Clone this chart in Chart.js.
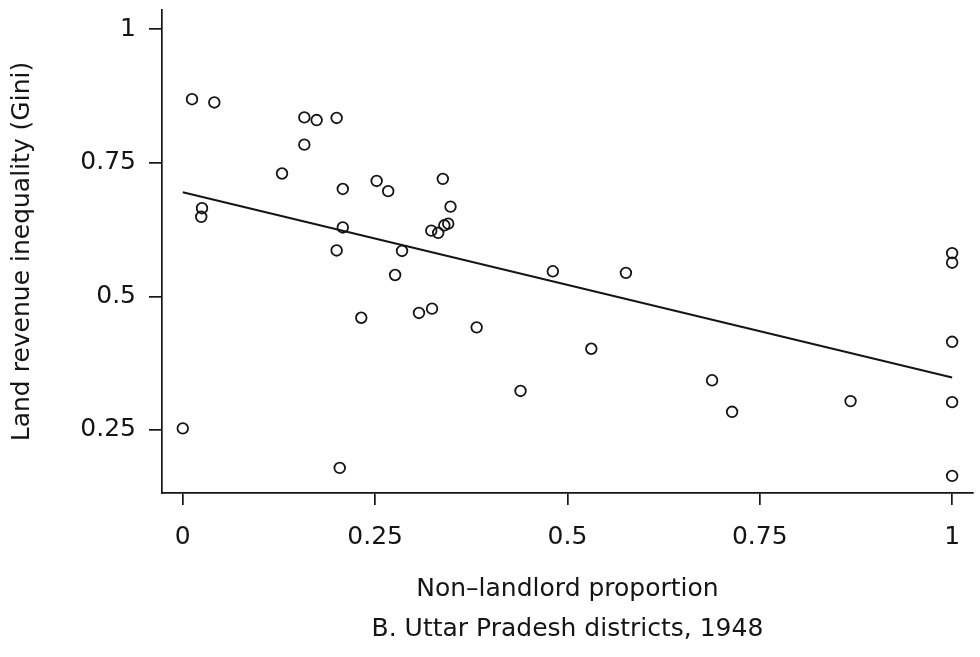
<!DOCTYPE html>
<html>
<head>
<meta charset="utf-8">
<title>Land revenue inequality vs non-landlord proportion</title>
<script src="https://cdn.jsdelivr.net/npm/chart.js@4/dist/chart.umd.min.js"></script>
<style>
  html, body { margin: 0; padding: 0; background: #fff; }
  #wrap { width: 980px; height: 657px; }
</style>
</head>
<body>
<div id="wrap"><canvas id="giniChart" width="980" height="657"></canvas></div>
<script>
// Uttar Pradesh districts, 1948
const nonLandlord = [
  0.000, 0.012, 0.041, 0.025, 0.024, 0.129, 0.158, 0.174, 0.200, 0.158,
  0.208, 0.208, 0.200, 0.204, 0.252, 0.267, 0.232, 0.285, 0.276, 0.307,
  0.324, 0.323, 0.332, 0.340, 0.345, 0.338, 0.348, 0.382, 0.439, 0.481,
  0.531, 0.576, 0.688, 0.714, 0.868, 1.000, 1.000, 1.000, 1.000, 1.000
]
const giniValues = [
  0.253, 0.869, 0.863, 0.665, 0.649, 0.730, 0.835, 0.830, 0.834, 0.784,
  0.701, 0.629, 0.586, 0.179, 0.716, 0.697, 0.460, 0.585, 0.540, 0.469,
  0.477, 0.623, 0.619, 0.633, 0.636, 0.720, 0.668, 0.442, 0.323, 0.547,
  0.402, 0.544, 0.343, 0.284, 0.304, 0.581, 0.563, 0.415, 0.302, 0.164
]

// fitted regression line, endpoints at x = 0 and x = 1
const fitX = [0, 1]
const fitY = [0.695, 0.348]

const xTicks = [0, 0.25, 0.5, 0.75, 1]
const yTicks = [0.25, 0.5, 0.75, 1]

const ink = "#151515"
const fontFamily = "'DejaVu Sans', 'Liberation Sans', sans-serif"

Chart.defaults.font.family = fontFamily
Chart.defaults.color = ink

const points = nonLandlord.map((x, i) => ({ x: x, y: giniValues[i] }))
const fitLine = fitX.map((x, i) => ({ x: x, y: fitY[i] }))

new Chart(document.getElementById("giniChart"), {
  type: "scatter",
  data: {
    datasets: [
      {
        label: "Districts",
        data: points,
        pointStyle: "circle",
        pointRadius: 5.3,
        pointBorderWidth: 1.8,
        pointBackgroundColor: "rgba(0,0,0,0)",
        pointBorderColor: ink,
        showLine: false,
      },
      {
        label: "Fit",
        data: fitLine,
        showLine: true,
        borderColor: ink,
        borderWidth: 2,
        pointRadius: 0,
        fill: false,
      },
    ],
  },
  options: {
    responsive: false,
    animation: false,
    layout: {
      padding: { top: 10, right: 4, bottom: 0, left: 0 },
    },
    plugins: {
      legend: { display: false },
      tooltip: { enabled: false },
    },
    scales: {
      x: {
        type: "linear",
        min: -0.027,
        max: 1.027,
        afterBuildTicks: (scale) => {
          scale.ticks = xTicks.map((v) => ({ value: v }))
        },
        afterFit: (scale) => {
          scale.height = 164
        },
        ticks: {
          padding: 17,
          color: ink,
          font: { size: 25 },
          maxRotation: 0,
          autoSkip: false,
          callback: (value) => String(value),
        },
        grid: {
          drawOnChartArea: false,
          drawTicks: true,
          tickLength: 12,
          lineWidth: 1.7,
          color: ink,
        },
        border: { display: true, color: ink, width: 1.7 },
        title: {
          display: true,
          text: ["Non\u2013landlord proportion", "B. Uttar Pradesh districts, 1948"],
          color: ink,
          font: { size: 25, lineHeight: "40px" },
          padding: { top: 0, bottom: 8 },
        },
      },
      y: {
        type: "linear",
        min: 0.132,
        max: 1.036,
        afterBuildTicks: (scale) => {
          scale.ticks = yTicks.map((v) => ({ value: v }))
        },
        afterFit: (scale) => {
          // axis runs to the very top of the plot; no room reserved for end labels
          scale.width = 162
          scale.paddingTop = 0
          scale.paddingBottom = 0
        },
        ticks: {
          padding: 13,
          color: ink,
          font: { size: 25 },
          autoSkip: false,
          callback: (value) => String(value),
        },
        grid: {
          drawOnChartArea: false,
          drawTicks: true,
          tickLength: 13,
          lineWidth: 1.7,
          color: ink,
        },
        border: { display: true, color: ink, width: 1.7 },
        title: {
          display: true,
          text: "Land revenue inequality (Gini)",
          color: ink,
          font: { size: 25, lineHeight: 1.2 },
          padding: { top: 7.5, bottom: 0 },
        },
      },
    },
  },
})
</script>
</body>
</html>
